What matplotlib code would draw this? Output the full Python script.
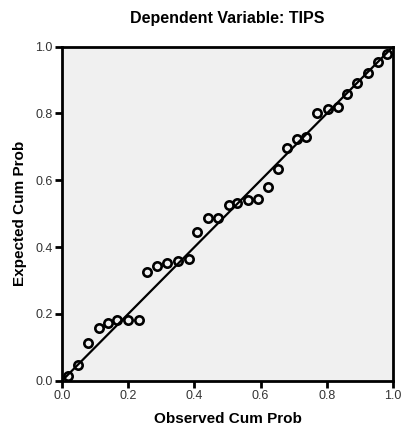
import matplotlib
matplotlib.use("Agg")
import matplotlib.pyplot as plt

# observed vs expected cumulative probabilities
observed = [0.017, 0.047, 0.078, 0.110, 0.138, 0.165, 0.198, 0.231,
            0.258, 0.288, 0.318, 0.351, 0.382, 0.407, 0.440, 0.472,
            0.503, 0.530, 0.561, 0.593, 0.621, 0.652, 0.679, 0.709,
            0.737, 0.771, 0.805, 0.835, 0.860, 0.890, 0.924, 0.956, 0.983]
expected = [0.013, 0.047, 0.114, 0.158, 0.174, 0.181, 0.183, 0.183,
            0.326, 0.344, 0.351, 0.359, 0.364, 0.444, 0.486, 0.486,
            0.526, 0.531, 0.540, 0.543, 0.580, 0.635, 0.696, 0.722,
            0.728, 0.800, 0.813, 0.820, 0.857, 0.890, 0.920, 0.954, 0.977]
ticks = [0.0, 0.2, 0.4, 0.6, 0.8, 1.0]

plt.rcParams['font.family'] = ['Liberation Sans', 'DejaVu Sans']

fig = plt.figure(figsize=(4.06, 4.36), dpi=100)
ax = fig.add_axes([0.153, 0.127, 0.815, 0.766])
ax.set_facecolor('#f0f0f0')

ax.plot([0, 1], [0, 1], color='black', linewidth=1.6, zorder=2)
ax.plot(observed, expected, 'o', markersize=6, markerfacecolor='none',
        markeredgecolor='black', markeredgewidth=1.9, zorder=3)

ax.set_xlim(0, 1)
ax.set_ylim(0, 1)
ax.set_xticks(ticks)
ax.set_yticks(ticks)
ax.set_xticklabels(['{:.1f}'.format(t) for t in ticks])
ax.set_yticklabels(['{:.1f}'.format(t) for t in ticks])
ax.tick_params(direction='out', length=5, width=2, labelsize=9,
               labelcolor='#333333', pad=2)
for sp in ax.spines.values():
    sp.set_linewidth(2)

ax.set_title('Dependent Variable: TIPS', fontsize=11.5, fontweight='bold', pad=17)
ax.set_xlabel('Observed Cum Prob', fontsize=11, fontweight='bold', labelpad=7)
ax.set_ylabel('Expected Cum Prob', fontsize=11, fontweight='bold', labelpad=6)

fig.savefig('out.png', dpi=100)
